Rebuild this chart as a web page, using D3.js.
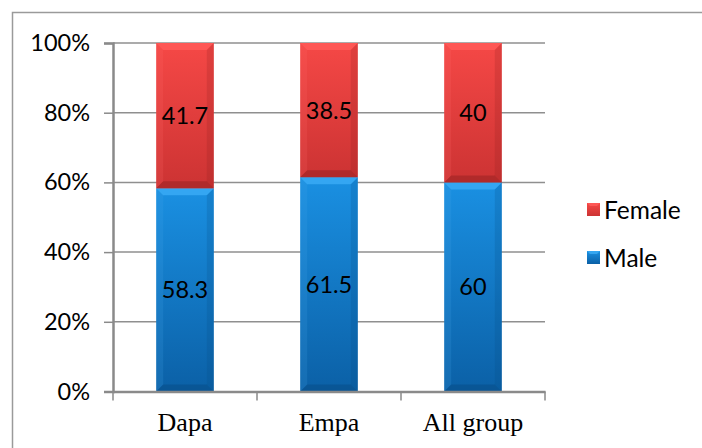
<!DOCTYPE html>
<html><head><meta charset="utf-8">
<script src="https://cdn.jsdelivr.net/npm/d3@7"></script>
<style>html,body{margin:0;padding:0;background:#fff;}svg{display:block;}</style>
</head><body>
<svg id="c" width="702" height="448"></svg>
<script>
const categories = ["Dapa", "Empa", "All group"];
const male = [58.3, 61.5, 60];
const female = [41.7, 38.5, 40];
const seriesNames = ["Female", "Male"];
const yTicks = [0, 20, 40, 60, 80, 100];

const svg = d3.select("#c");
const W = 702, H = 448;
const m = {left: 113, right: 545, top: 43, bottom: 391.5};
const sansFont = "Lato, 'Open Sans', sans-serif";

// outer border
svg.append("rect").attr("x", 12.5).attr("y", 12.5).attr("width", W).attr("height", H)
  .attr("fill", "none").attr("stroke", "#9a9a9a").attr("stroke-width", 1.5);

const x = d3.scaleBand().domain(categories).range([m.left, m.right]).paddingInner(0.6).paddingOuter(0.3);
const xg = d3.scaleBand().domain(categories).range([m.left, m.right]);
const y = d3.scaleLinear().domain([0, 100]).range([m.bottom, m.top]);

const defs = svg.append("defs");
function grad(id, c1, c2) {
  const g = defs.append("linearGradient").attr("id", id).attr("x1", 0).attr("y1", 0).attr("x2", 0).attr("y2", 1);
  g.append("stop").attr("offset", "0%").attr("stop-color", c1);
  g.append("stop").attr("offset", "100%").attr("stop-color", c2);
}
grad("gF", "#f54846", "#cc3333");
grad("gM", "#1a90e2", "#0b60a6");

// gridlines
svg.append("g").selectAll("line").data(yTicks.filter(d => d > 0)).join("line")
  .attr("x1", m.left).attr("x2", m.right)
  .attr("y1", d => y(d)).attr("y2", d => y(d))
  .attr("stroke", "#8f8f8f").attr("stroke-width", 1.5);

// y axis
const yAxis = d3.axisLeft(y).tickValues(yTicks).tickFormat(d => d + "%").tickSize(9).tickPadding(14);
const ya = svg.append("g").attr("transform", `translate(${m.left},0)`).call(yAxis);
ya.select(".domain").attr("stroke", "#8a8a8a").attr("stroke-width", 2.5);
ya.selectAll(".tick line").attr("stroke", "#8a8a8a").attr("stroke-width", 1.5);
ya.selectAll(".tick text").attr("font-family", sansFont).attr("font-size", 23.5).attr("fill", "#000");

// bars
const stackData = categories.map((c, i) => ({cat: c, male: male[i], female: female[i]}));
function bevelBar(g, x0, w, yTop, yBot, fill, light, dark, side) {
  const b = Math.min(7, (yBot - yTop) / 3);
  g.append("rect").attr("x", x0).attr("y", yTop).attr("width", w).attr("height", yBot - yTop).attr("fill", fill);
  g.append("path").attr("d", `M${x0},${yTop}L${x0 + w},${yTop}L${x0 + w - b},${yTop + b}L${x0 + b},${yTop + b}Z`).attr("fill", light).attr("opacity", 0.85);
  g.append("path").attr("d", `M${x0},${yTop}L${x0 + b},${yTop + b}L${x0 + b},${yBot - b}L${x0},${yBot}Z`).attr("fill", side).attr("opacity", 0.18);
  g.append("path").attr("d", `M${x0 + w},${yTop}L${x0 + w - b},${yTop + b}L${x0 + w - b},${yBot - b}L${x0 + w},${yBot}Z`).attr("fill", dark).attr("opacity", 0.2);
  g.append("path").attr("d", `M${x0},${yBot}L${x0 + w},${yBot}L${x0 + w - b},${yBot - b}L${x0 + b},${yBot - b}Z`).attr("fill", dark).attr("opacity", 0.45);
}
const bars = svg.append("g");
stackData.forEach(d => {
  const x0 = x(d.cat), w = x.bandwidth();
  bevelBar(bars, x0, w, y(d.male), y(0), "url(#gM)", "#3aaaf5", "#064a80", "#4aa8ea");
  bevelBar(bars, x0, w, y(d.male + d.female), y(d.male), "url(#gF)", "#ff5a58", "#8e1e1e", "#ff6b68");
});

// data labels
const lab = svg.append("g").attr("font-family", sansFont).attr("font-size", 23.5).attr("fill", "#000").attr("text-anchor", "middle");
stackData.forEach(d => {
  const cx = x(d.cat) + x.bandwidth() / 2;
  lab.append("text").attr("x", cx).attr("y", y(d.male / 2)).attr("dy", "0.36em").text(d.male);
  lab.append("text").attr("x", cx).attr("y", y(d.male + d.female / 2)).attr("dy", "0.36em").text(d.female);
});

// x axis
const xAxis = d3.axisBottom(xg).tickSize(0).tickPadding(21);
const xa = svg.append("g").attr("transform", `translate(0,${m.bottom})`).call(xAxis);
xa.select(".domain").attr("stroke", "#8a8a8a").attr("stroke-width", 2.5);
xa.selectAll(".tick text").attr("font-family", "'Liberation Serif', 'Times New Roman', serif").attr("font-size", 26).attr("fill", "#000");
svg.append("g").selectAll("line").data(categories.concat(["__end"])).join("line")
  .attr("x1", (d, i) => m.left + i * xg.step()).attr("x2", (d, i) => m.left + i * xg.step())
  .attr("y1", m.bottom).attr("y2", m.bottom + 9)
  .attr("stroke", "#8a8a8a").attr("stroke-width", 1.5);

// legend
const leg = svg.append("g").attr("transform", "translate(587,202)");
const legColors = {Female: ["url(#gF)", "#ff5a58"], Male: ["url(#gM)", "#3aaaf5"]};
seriesNames.forEach((s, i) => {
  const g = leg.append("g").attr("transform", `translate(0,${i * 48})`);
  g.append("rect").attr("x", 0).attr("y", 1).attr("width", 13).attr("height", 13).attr("fill", legColors[s][0]);
  g.append("path").attr("d", "M0,1L13,1L10,4L3,4Z").attr("fill", legColors[s][1]).attr("opacity", 0.85);
  g.append("text").attr("x", 17).attr("y", 8).attr("dy", "0.36em")
    .attr("font-family", sansFont).attr("font-size", 24.5).attr("fill", "#000").text(s);
});
</script>
</body></html>
